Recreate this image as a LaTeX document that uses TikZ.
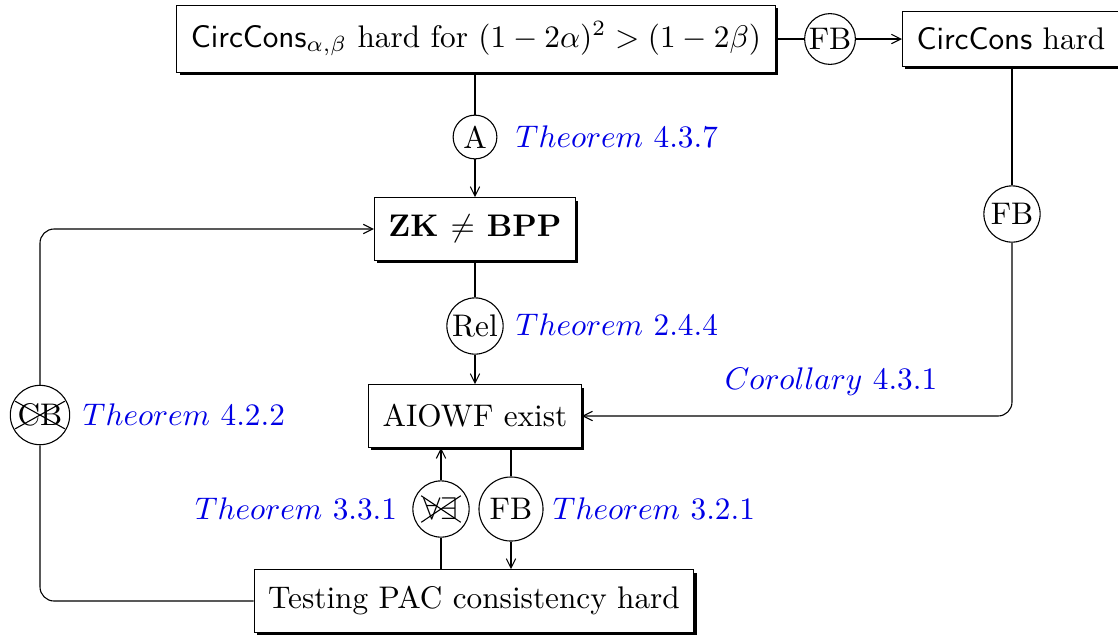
\documentclass[tikz,border=0pt]{standalone}
\usetikzlibrary{shadows,shapes.misc,arrows.meta}
\begin{document}
\begin{tikzpicture}[x=0.32pt,y=-0.32pt,line width=0.35pt,
  box/.style={draw,fill=white,minimum height=20pt,inner xsep=4.5pt,
    drop shadow={fill=black,opacity=1,shadow xshift=0.9pt,shadow yshift=-0.9pt}},
  circ/.style={draw,circle,inner sep=0.4pt,minimum size=14pt,fill=white},
  xout/.style={cross out,draw,inner sep=0.6pt},
  lab/.style={text=blue!90!black},
  >={Straight Barb[length=3pt,width=3pt]}]
\useasboundingbox (0,0) rectangle (1118,634);
\node[box,minimum height=21.5pt] (top) at (476,39) {$\mathsf{CircCons}_{\alpha,\beta}$ hard for $(1-2\alpha)^2>(1-2\beta)$};
\node[circ,minimum size=16pt] (fb1) at (830,39) {FB};
\node[box,anchor=west,minimum height=17.5pt] (cc) at (902,39) {$\mathsf{CircCons}$ hard};
\node[circ] (a) at (475,137) {A};
\node[box,font=\bfseries] (zk) at (475,229) {ZK $\neq$ BPP};
\node[circ,minimum size=18pt] (fb2) at (1012,214) {FB};
\node[circ,minimum size=18pt] (rel) at (475,326) {Rel};
\node[box] (aiowf) at (475,416) {AIOWF exist};
\node[circ,minimum size=19pt] (cb) at (40,415) {CB};
\node[xout] (cbx) at (cb) {\phantom{CB}};
\node[circ,minimum size=18pt] (fa) at (441,509) {$\forall\exists$};
\node[xout] (fax) at (fa) {\phantom{$\forall\exists$}};
\node[circ,minimum size=20.5pt] (fb3) at (511,509) {FB};
\node[box] (pac) at (474,601) {Testing PAC consistency hard};

\node[lab,anchor=west] (l1) at (505,137) {$Theorem$ 4.3.7};
\node[lab,anchor=west] (l2) at (505,325) {$Theorem$ 2.4.4};
\node[lab] (l3) at (831,382) {$Corollary$ 4.3.1};
\node[lab,anchor=west] (l4) at (72,415) {$Theorem$ 4.2.2};
\node[lab,anchor=east] (l5) at (408,509) {$Theorem$ 3.3.1};
\node[lab,anchor=west] (l6) at (542,509) {$Theorem$ 3.2.1};

\draw (top.east) -- (fb1);
\draw[->] (fb1) -- (cc.west);
\draw (top.south -| a) -- (a);
\draw[->] (a) -- (zk.north);
\draw (cc.south -| fb2) -- (fb2);
\draw[->,rounded corners=4.5pt] (fb2.south) |- (aiowf.east);
\draw (zk) -- (rel);
\draw[->] (rel) -- (aiowf);
\draw (aiowf.south -| fb3) -- (fb3);
\draw[->] (fb3) -- (pac.north -| fb3);
\draw (pac.north -| fa) -- (fa);
\draw[->] (fa) -- (aiowf.south -| fa);
\draw[rounded corners=4.5pt] (pac.west) -| (cb.south);
\draw[->,rounded corners=4.5pt] (cb.north) |- (zk.west);
\end{tikzpicture}
\end{document}
